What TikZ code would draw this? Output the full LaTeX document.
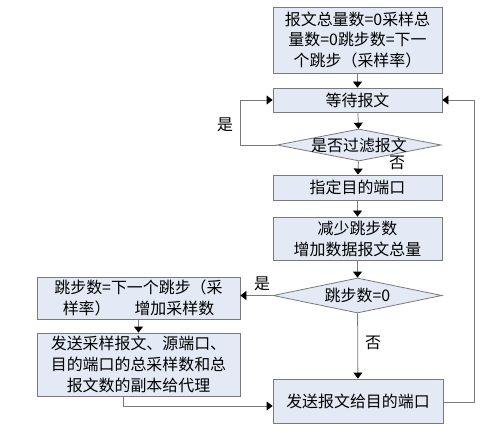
\documentclass[tikz,border=0pt]{standalone}
\usepackage{fontspec}
\setmainfont{Noto Sans CJK SC}
\usetikzlibrary{shapes.geometric,arrows.meta}
\definecolor{boxfill}{HTML}{E3EAF5}
\definecolor{linegray}{HTML}{7A7A7A}
\tikzset{
  stepbox/.style={draw=linegray, fill=boxfill, line width=0.8bp, align=center, inner sep=0pt,
    font=\fontsize{16}{21}\selectfont},
  decision/.style={diamond, draw=linegray, fill=boxfill, line width=0.8bp, inner sep=0pt, aspect=5},
  txt/.style={font=\fontsize{16}{21}\selectfont, inner sep=0pt},
  flow/.style={draw=linegray, line width=0.8bp, -{Triangle[width=9bp,length=6bp,color=black]}},
  plain/.style={draw=linegray, line width=0.8bp}
}
\begin{document}
\begin{tikzpicture}[x=1bp,y=-1bp]
\useasboundingbox (0,0) rectangle (496,436);
\node[stepbox, minimum width=169bp, minimum height=66bp] (init) at (357.5,40)
  {报文总量数=0采样总\\量数=0跳步数=下一\\个跳步（采样率）};
\node[stepbox, minimum width=169bp, minimum height=24bp] (wait) at (357.5,100) {等待报文};
\node[decision, minimum width=164bp, minimum height=32bp] (filt) at (359,145) {};
\node[txt] at (filt) {是否过滤报文};
\node[stepbox, minimum width=169bp, minimum height=25bp] (dest) at (357.5,187.5) {指定目的端口};
\node[stepbox, minimum width=169bp, minimum height=43bp] (dec) at (357.5,238.5) {减少跳步数\\增加数据报文总量};
\node[decision, minimum width=169bp, minimum height=35bp] (zero) at (357.5,295.5) {};
\node[txt] at (zero) {跳步数=0};
\node[stepbox, minimum width=203bp, minimum height=42bp] (reset) at (138.5,298)
  {跳步数=下一个跳步（采\\样率）\quad\enspace 增加采样数};
\node[stepbox, minimum width=203bp, minimum height=63bp] (copy) at (138.5,364.5)
  {发送采样报文、源端口、\\目的端口的总采样数和总\\报文数的副本给代理};
\node[stepbox, minimum width=170bp, minimum height=44bp] (send) at (358,401) {发送报文给目的端口};

\coordinate (lloop) at (240,145);
\coordinate (rloop) at (474,402);
\coordinate (cbend) at (123,406);

\draw[flow] (init) -- (wait);
\draw[flow] (wait) -- (filt);
\draw[flow] (filt) -- (dest);
\draw[flow] (dest) -- (dec);
\draw[flow] (dec) -- (zero);
\draw[flow] (filt.west) -- (lloop) |- (wait.west);
\draw[flow] (zero.west) -- (zero.west -| reset.east);
\draw[flow] (reset) -- (copy);
\draw[flow] (copy.south -| cbend) -- (cbend) -- (cbend -| send.west);
\draw[flow] (zero) -- (send);
\draw[flow] (send.east |- rloop) -- (rloop) |- (wait.east);

\node[txt] at (225,125) {是};
\node[txt] at (397,163) {否};
\node[txt] at (262,284) {是};
\node[txt] at (373,343) {否};
\end{tikzpicture}
\end{document}
